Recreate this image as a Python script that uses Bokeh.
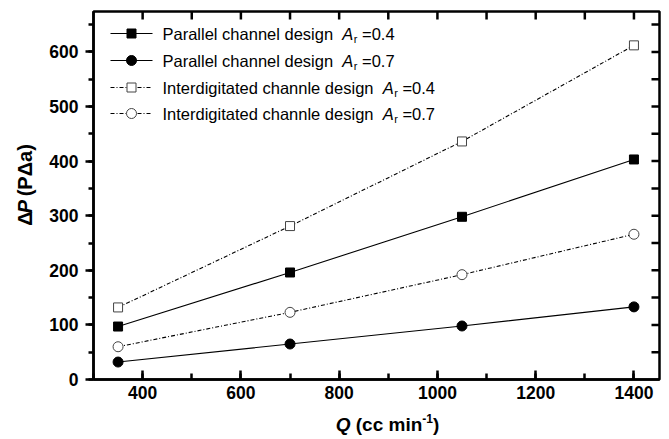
import math

from bokeh.plotting import figure
from bokeh.layouts import row, column
from bokeh.models import Label, Range1d, SingleIntervalTicker
from bokeh.core.properties import value
from bokeh.embed import file_html
from bokeh.resources import INLINE

# Pressure drop across the flow field versus volumetric flow rate
flow_rate = [350, 700, 1050, 1400]          # Q (cc min-1)
parallel_ar04 = [97, 196, 298, 403]          # ΔP (Pa)
parallel_ar07 = [32, 65, 98, 133]
interdig_ar04 = [132, 281, 436, 612]
interdig_ar07 = [60, 123, 192, 266]

legend_names = [
    "Parallel channel design",
    "Parallel channel design",
    "Interdigitated channle design",
    "Interdigitated channle design",
]
legend_ratios = ["0.4", "0.7", "0.4", "0.7"]

# tick positions on the frame
x_major = [400, 600, 800, 1000, 1200, 1400]
x_minor = [500, 700, 900, 1100, 1300]
y_major = [100, 200, 300, 400, 500, 600]
y_minor = [50, 150, 250, 350, 450, 550, 650]

# canvas geometry
W, H = 669, 439
YT_W = 40            # strip holding the rotated y title
XT_H = 28            # strip holding the x title
MW, MH = W - YT_W, H - XT_H
L, R, T, B = 93 - YT_W, 10, 11, 32
X0, X1 = 300, 1452
Y0, Y1 = 0, 674
FW, FH = MW - L - R, MH - T - B
DX, DY = (X1 - X0) / FW, (Y1 - Y0) / FH   # data units per pixel

FONT = "Liberation Sans"

# Arial-compatible advance widths (per 1000 em) for measuring text runs
REG = {'P': 667, 'a': 556, 'r': 333, 'l': 222, 'e': 556, ' ': 278, 'c': 500,
       'h': 556, 'n': 556, 'd': 556, 's': 500, 'i': 222, 'g': 556, 'I': 278,
       't': 278, 'A': 667, '=': 584, '0': 556, '.': 278, '4': 556, '7': 556}
BOLD = {'Δ': 700, 'P': 667, ' ': 278, '(': 333, ')': 333, 'a': 556, 'Q': 778,
        'c': 556, 'm': 889, 'i': 278, 'n': 611, '-': 333, '1': 556}


def tw(s, size, bold=False):
    table = BOLD if bold else REG
    return sum(table.get(ch, 556) for ch in s) * size / 1000.0


def px_x(sx):
    # main-figure canvas pixel -> data x
    return X0 + (sx - L) * DX


def px_y(sy):
    # main-figure canvas pixel -> data y
    return Y0 + (MH - B - sy) * DY


p = figure(width=MW, height=MH,
           x_range=Range1d(X0, X1), y_range=Range1d(Y0, Y1),
           output_backend="svg", toolbar_location=None,
           min_border_left=L, min_border_right=R,
           min_border_top=T, min_border_bottom=B)
p.xgrid.visible = False
p.ygrid.visible = False
p.outline_line_color = "black"
p.outline_line_width = 2.5

p.xaxis.ticker = SingleIntervalTicker(interval=200, num_minor_ticks=2)
p.yaxis.ticker = SingleIntervalTicker(interval=100, num_minor_ticks=2)

for ax in (p.xaxis[0], p.yaxis[0]):
    ax.major_tick_line_color = "black"
    ax.minor_tick_line_color = "black"
    ax.major_tick_line_width = 2.5
    ax.minor_tick_line_width = 2.5
    ax.major_label_text_font = FONT
    ax.major_label_text_font_style = "bold"
    ax.major_label_text_font_size = "17.5px"
    ax.major_label_text_color = "black"
    ax.axis_line_width = 2.5

left = p.yaxis[0]
bottom = p.xaxis[0]
# left: ticks outward
left.major_tick_out, left.major_tick_in = 8, 0
left.minor_tick_out, left.minor_tick_in = 5, 0
left.major_label_standoff = 7
# bottom: ticks inward
bottom.major_tick_out, bottom.major_tick_in = 0, 9
bottom.minor_tick_out, bottom.minor_tick_in = 0, 6
bottom.major_label_standoff = 6

DASH = "4 2 1 2"
series = [
    (parallel_ar04, "solid", "square", "black", 9),
    (parallel_ar07, "solid", "circle", "black", 10),
    (interdig_ar04, DASH, "square", "white", 9),
    (interdig_ar07, DASH, "circle", "white", 10),
]

for ys, dash, marker, fill, size in series:
    p.line(flow_rate, ys, line_color="black", line_width=1.1, line_dash=dash)
    p.scatter(flow_rate, ys, marker=marker, size=size, fill_color=fill,
              line_color="black" if fill == "black" else "#444444", line_width=1)

# inward ticks on the top and right edges of the frame
TICK_KW = dict(line_color="black", line_width=2.5)
top_x = x_major + x_minor
p.segment(x0=top_x, y0=[Y1] * len(top_x), x1=top_x, y1=[Y1 - 8 * DY] * len(top_x), **TICK_KW)
right_y = y_major + y_minor
p.segment(x0=[X1] * len(right_y), y0=right_y, x1=[X1 - 8 * DX] * len(right_y), y1=right_y, **TICK_KW)

# legend, drawn by hand so the A_r term can carry italic and subscript
row_sy = [33, 60, 87, 113]
LEG = 16.5
runs = {"name": ([], [], []), "A": ([], [], []), "r": ([], [], []), "eq": ([], [], [])}
for (ys, dash, marker, fill, size), sy, name, ratio in zip(series, row_sy, legend_names, legend_ratios):
    yv = px_y(sy)
    p.line([px_x(110 - YT_W), px_x(152 - YT_W)], [yv, yv], line_color="black", line_width=1.1,
           line_dash=dash)
    p.scatter([px_x(131 - YT_W)], [yv], marker=marker, size=size, fill_color=fill,
              line_color="black" if fill == "black" else "#444444", line_width=1)
    sx = 162 - YT_W
    for key, txt, ypix, adv in (("name", name, sy, tw(name + "  ", LEG)),
                                ("A", "A", sy, tw("A", LEG) + 0.5),
                                ("r", "r", sy + 5, tw("r", 11) + tw(" ", LEG)),
                                ("eq", "=" + ratio, sy, 0.0)):
        xs_, ys_, ts_ = runs[key]
        xs_.append(px_x(sx))
        ys_.append(px_y(ypix))
        ts_.append(txt)
        sx += adv

for key, size, style in (("name", f"{LEG}px", "normal"), ("A", f"{LEG}px", "italic"),
                         ("r", "11px", "normal"), ("eq", f"{LEG}px", "normal")):
    xs_, ys_, ts_ = runs[key]
    p.text(x=xs_, y=ys_, text=ts_, text_font=value(FONT), text_font_size=value(size),
           text_font_style=style, text_baseline="middle", text_align="left", text_color="black")


def title_strip(width, height):
    f = figure(width=width, height=height, x_range=Range1d(0, width), y_range=Range1d(0, height),
               output_backend="svg", toolbar_location=None,
               x_axis_location=None, y_axis_location=None,
               min_border=0, min_border_left=0, min_border_right=0,
               min_border_top=0, min_border_bottom=0)
    f.xgrid.visible = False
    f.ygrid.visible = False
    f.outline_line_color = None
    return f


# x title strip (full canvas width): Q (cc min-1)
XS = 19
xf = title_strip(W, XT_H)
xt_parts = [("Q", "bold italic", XS, 0, 0.0), ("(cc min", "bold", XS, 0, tw(" ", XS, True)),
            ("-1", "bold", 12, 6, 0.0), (")", "bold", XS, 0, 0.0)]
total = sum(tw(s, sz, True) + gap for s, _, sz, _, gap in xt_parts)
sx = 387 - total / 2
for s, style, sz, dy, gap in xt_parts:
    sx += gap
    xf.add_layout(Label(x=sx, y=XT_H - 13 + dy, text=s, text_font=FONT, text_font_size=f"{sz}px",
                        text_font_style=style, text_baseline="middle", text_align="left",
                        text_color="black"))
    sx += tw(s, sz, True)

# y title strip: ΔP (PΔa), rotated
YS = 20
yf = title_strip(YT_W, MH)
yt_parts = [("Δ", "bold", 0.0), ("P", "bold italic", 0.0), ("(PΔa)", "bold", tw(" ", YS, True))]
total = sum(tw(s, YS, True) + gap for s, _, gap in yt_parts)
y = (MH - 197) - total / 2
for s, style, gap in yt_parts:
    y += gap
    yf.add_layout(Label(x=24, y=y, text=s, text_font=FONT, text_font_size=f"{YS}px",
                        text_font_style=style, text_baseline="middle", text_align="left",
                        angle=math.pi / 2, text_color="black"))
    y += tw(s, YS, True)

layout = column(row(yf, p), xf)
open("out.html", "w").write(file_html(layout, INLINE))
